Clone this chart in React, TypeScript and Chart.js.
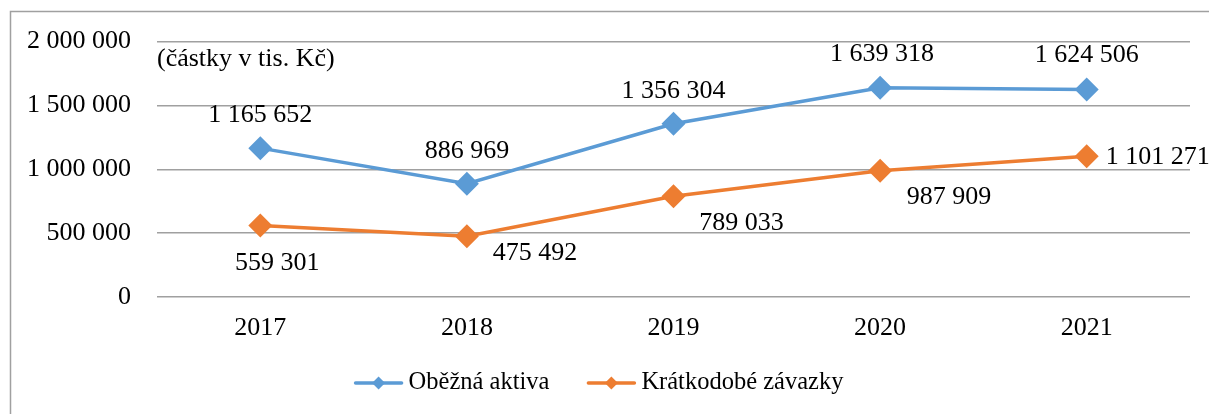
import React, { useEffect, useRef } from "react";
import { Chart, registerables } from "chart.js";

Chart.register(...registerables);

const categories = ["2017", "2018", "2019", "2020", "2021"];
const obeznaAktiva = [1165652, 886969, 1356304, 1639318, 1624506];
const kratkodobeZavazky = [559301, 475492, 789033, 987909, 1101271];
const yTicks = [0, 500000, 1000000, 1500000, 2000000];
const seriesNames = ["Oběžná aktiva", "Krátkodobé závazky"];
const unitNote = "(částky v tis. Kč)";

const FONT = "'Liberation Serif', 'Times New Roman', serif";
const FS = 26;
const FS_LEGEND = 24.5;
const BLUE = "#5B9BD5";
const ORANGE = "#ED7D31";
const GRID = "#a0a0a0";

const fmt = (v: number) =>
  Math.round(v)
    .toString()
    .replace(/\B(?=(\d{3})+(?!\d))/g, " ");

// label offsets (style only) relative to each point, in px
const labelOffsets = [
  [[0, -33], [0, -33], [0, -33], [2, -33], [0, -34]],
  [[17, 38], [68, 17], [68, 27], [69, 26], [71, 1]],
];

const decorPlugin = {
  id: "decor",
  beforeDraw(chart: any) {
    const { ctx, width, height } = chart;
    ctx.save();
    ctx.fillStyle = "#ffffff";
    ctx.fillRect(0, 0, width, height);
    ctx.restore();
  },
  afterDraw(chart: any) {
    const { ctx, chartArea, width } = chart;
    ctx.save();
    // outer frame (left and top visible)
    ctx.strokeStyle = GRID;
    ctx.lineWidth = 1.5;
    ctx.beginPath();
    ctx.moveTo(10.5, chart.height + 2);
    ctx.lineTo(10.5, 11.5);
    ctx.lineTo(width + 2, 11.5);
    ctx.stroke();

    // unit note
    ctx.fillStyle = "#000";
    ctx.font = `${FS}px ${FONT}`;
    ctx.textAlign = "left";
    ctx.textBaseline = "middle";
    ctx.fillText(unitNote, chartArea.left, 59);

    // data labels
    ctx.textAlign = "center";
    chart.data.datasets.forEach((ds: any, di: number) => {
      const meta = chart.getDatasetMeta(di);
      meta.data.forEach((pt: any, i: number) => {
        const off = labelOffsets[di][i];
        ctx.fillText(fmt(ds.data[i]), pt.x + off[0], pt.y + off[1]);
      });
    });

    // legend
    ctx.font = `${FS_LEGEND}px ${FONT}`;
    const lineLen = 50;
    const gapText = 5;
    const gapItem = 37;
    const items = chart.data.datasets.map((ds: any) => ({
      label: ds.label,
      color: ds.borderColor,
      w: lineLen + gapText + ctx.measureText(ds.label).width,
    }));
    const total =
      items.reduce((s: number, it: any) => s + it.w, 0) + gapItem * (items.length - 1);
    let x = width / 2 - 6 - total / 2;
    const y = 383;
    ctx.textAlign = "left";
    items.forEach((it: any) => {
      ctx.strokeStyle = it.color;
      ctx.lineWidth = 3.5;
      ctx.lineCap = "round";
      ctx.beginPath();
      ctx.moveTo(x + 2, y);
      ctx.lineTo(x + lineLen - 2, y);
      ctx.stroke();
      const cx = x + lineLen / 2;
      const r = 6.5;
      ctx.fillStyle = it.color;
      ctx.beginPath();
      ctx.moveTo(cx, y - r);
      ctx.lineTo(cx + r, y);
      ctx.lineTo(cx, y + r);
      ctx.lineTo(cx - r, y);
      ctx.closePath();
      ctx.fill();
      ctx.fillStyle = "#000";
      ctx.fillText(it.label, x + lineLen + gapText, y);
      x += it.w + gapItem;
    });
    ctx.restore();
  },
};

export default function App() {
  const ref = useRef<HTMLCanvasElement | null>(null);
  useEffect(() => {
    if (!ref.current) return;
    const chart = new Chart(ref.current, {
      type: "line",
      data: {
        labels: categories,
        datasets: [
          {
            label: seriesNames[0],
            data: obeznaAktiva,
            borderColor: BLUE,
            backgroundColor: BLUE,
            borderWidth: 3.5,
            pointStyle: "rectRot",
            pointRadius: 12,
            pointBorderWidth: 0,
            pointBackgroundColor: BLUE,
            tension: 0,
          },
          {
            label: seriesNames[1],
            data: kratkodobeZavazky,
            borderColor: ORANGE,
            backgroundColor: ORANGE,
            borderWidth: 3.5,
            pointStyle: "rectRot",
            pointRadius: 12,
            pointBorderWidth: 0,
            pointBackgroundColor: ORANGE,
            tension: 0,
          },
        ],
      },
      options: {
        responsive: false,
        animation: false,
        layout: { padding: { left: 10, right: 19, top: 40, bottom: 0 } },
        plugins: {
          legend: { display: false },
          tooltip: { enabled: false },
        },
        scales: {
          x: {
            offset: true,
            grid: { display: false },
            border: { display: false },
            ticks: {
              padding: 8,
              color: "#000",
              font: { family: FONT, size: FS },
            },
            afterFit: (s: any) => {
              s.height = 117;
            },
          },
          y: {
            min: 0,
            max: 2000000,
            afterBuildTicks: (s: any) => {
              s.ticks = yTicks.map((v) => ({ value: v }));
            },
            grid: { color: GRID, lineWidth: 1.5, drawTicks: false },
            border: { display: false },
            ticks: {
              padding: 26,
              color: "#000",
              font: { family: FONT, size: FS },
              callback: (v: any) => fmt(Number(v)),
            },
            afterFit: (s: any) => {
              s.width = 147;
            },
          },
        },
      },
      plugins: [decorPlugin],
    });
    return () => chart.destroy();
  }, []);
  return (
    <div style={{ position: "fixed", left: 0, top: 0, width: 1209, height: 414 }}>
      <canvas ref={ref} width={1209} height={414} style={{ display: "block" }} />
    </div>
  );
}
